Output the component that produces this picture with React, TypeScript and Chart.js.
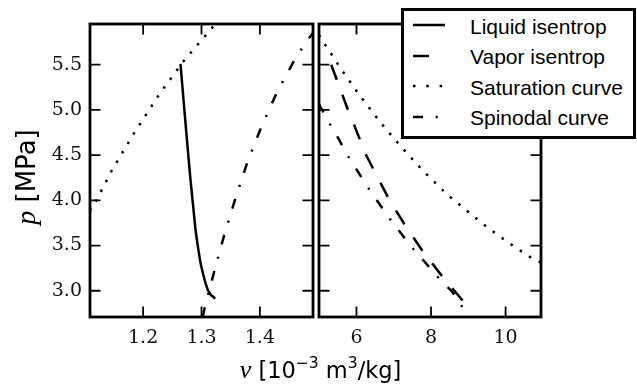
import React, { useEffect, useRef } from "react";
import { Chart, registerables } from "chart.js";

Chart.register(...registerables);

// ---------- data (v in 10^-3 m^3/kg, p in MPa) ----------
// left panel: liquid side
const LIQ_ISEN_V = [1.264, 1.270, 1.276, 1.2811, 1.2855, 1.2897, 1.294, 1.2983, 1.303, 1.3069, 1.3108, 1.316, 1.3235];
const LIQ_ISEN_P = [5.51, 5.05, 4.6, 4.23, 3.95, 3.675, 3.48, 3.306, 3.18, 3.085, 3.01, 2.955, 2.915];

const SAT_LIQ_V = [1.108, 1.1125, 1.1461, 1.1839, 1.224, 1.2674, 1.3154, 1.3245];
const SAT_LIQ_P = [3.89, 3.907, 4.327, 4.737, 5.138, 5.525, 5.887, 5.955];

const SPIN_LIQ_V = [1.302, 1.3057, 1.3223, 1.3394, 1.3583, 1.3784, 1.4024, 1.4286, 1.4595, 1.48, 1.492];
const SPIN_LIQ_P = [2.71, 2.82, 3.225, 3.627, 4.025, 4.419, 4.81, 5.186, 5.555, 5.758, 5.86];

// right panel: vapor side
const VAP_ISEN_V = [5.323, 5.778, 6.268, 6.865, 7.312, 7.802, 8.337, 8.892];
const VAP_ISEN_P = [5.5, 4.994, 4.493, 4.018, 3.719, 3.424, 3.14, 2.871];

const SAT_VAP_V = [4.99, 5.143, 5.617, 6.126, 6.651, 7.213, 7.802, 8.418, 9.087, 9.534, 10.249, 10.731, 10.96];
const SAT_VAP_P = [5.83, 5.732, 5.434, 5.138, 4.858, 4.585, 4.32, 4.07, 3.841, 3.694, 3.483, 3.354, 3.31];

const SPIN_VAP_V = [4.99, 5.036, 5.232, 5.545, 5.732, 6.062, 6.268, 6.616, 6.849, 7.224, 7.465, 7.874, 8.142, 8.562, 8.99, 9.06];
const SPIN_VAP_P = [5.07, 5.032, 4.884, 4.663, 4.515, 4.302, 4.165, 3.959, 3.822, 3.619, 3.49, 3.299, 3.169, 2.992, 2.727, 2.68];

// axes
const P_TICKS = [3.0, 3.5, 4.0, 4.5, 5.0, 5.5];
const V_LEFT_TICKS = [1.2, 1.3, 1.4];
const V_RIGHT_TICKS = [6, 8, 10];
const P_MIN = 2.71;
const P_MAX = 5.95;
const V_LEFT_MIN = 1.109;
const V_LEFT_MAX = 1.491;
const V_RIGHT_MIN = 4.995;
const V_RIGHT_MAX = 10.95;

const LEGEND_LABELS = ["Liquid isentrop", "Vapor isentrop", "Saturation curve", "Spinodal curve"];

// ---------- styles ----------
const DASH: Record<string, number[]> = {
  solid: [],
  dashed: [16, 16],
  dotted: [2.5, 8.5],
  dashdot: [10, 12.75, 2, 12.75],
};
const LEGEND_DASH = [DASH.solid, DASH.dashed, [2.5, 10.8], DASH.dashdot];
const LINE_W = 2.5;

const pts = (xs: number[], ys: number[]) => xs.map((x, i) => ({ x, y: ys[i] }));

const ds = (label: string, xs: number[], ys: number[], dash: number[]) => ({
  label,
  data: pts(xs, ys),
  showLine: true,
  borderColor: "#000",
  backgroundColor: "#000",
  borderWidth: LINE_W,
  borderDash: dash,
  pointRadius: 0,
  pointHoverRadius: 0,
  fill: false,
  tension: 0,
});

const framePlugin = (xTicks: number[], yTicks: number[]) => ({
  id: "frame",
  afterDatasetsDraw(chart: any) {
    const { ctx, chartArea: a, scales } = chart;
    const xs = scales.x;
    const ys = scales.y;
    const L = 10.5;
    ctx.save();
    ctx.strokeStyle = "#000";
    ctx.lineWidth = 1.8;
    ctx.setLineDash([]);
    ctx.beginPath();
    for (const v of xTicks) {
      const px = xs.getPixelForValue(v);
      ctx.moveTo(px, a.bottom);
      ctx.lineTo(px, a.bottom - L);
      ctx.moveTo(px, a.top);
      ctx.lineTo(px, a.top + L);
    }
    for (const v of yTicks) {
      const py = ys.getPixelForValue(v);
      ctx.moveTo(a.left, py);
      ctx.lineTo(a.left + L, py);
      ctx.moveTo(a.right, py);
      ctx.lineTo(a.right - L, py);
    }
    ctx.stroke();
    ctx.lineWidth = 2.8;
    ctx.strokeRect(a.left, a.top, a.right - a.left, a.bottom - a.top);
    ctx.restore();
  },
});

const tickFont = { family: "'DejaVu Serif', serif", size: 19 };

function makeConfig(opts: {
  datasets: any[];
  xMin: number;
  xMax: number;
  xTicks: number[];
  xFmt: (v: number) => string;
  showY: boolean;
  yWidth: number;
  padding: any;
}) {
  return {
    type: "scatter" as const,
    data: { datasets: opts.datasets },
    options: {
      animation: false as const,
      responsive: false,
      maintainAspectRatio: false,
      devicePixelRatio: 1,
      layout: { padding: opts.padding },
      plugins: { legend: { display: false }, tooltip: { enabled: false }, title: { display: false } },
      events: [],
      scales: {
        x: {
          type: "linear" as const,
          min: opts.xMin,
          max: opts.xMax,
          afterBuildTicks: (s: any) => {
            s.ticks = opts.xTicks.map((v) => ({ value: v }));
          },
          afterFit: (s: any) => {
            s.height = 71;
          },
          grid: { display: false, drawTicks: false },
          border: { display: false },
          ticks: {
            font: tickFont,
            color: "#111",
            padding: 10,
            maxRotation: 0,
            autoSkip: false,
            callback: (v: any) => opts.xFmt(Number(v)),
          },
        },
        y: {
          type: "linear" as const,
          min: P_MIN,
          max: P_MAX,
          afterBuildTicks: (s: any) => {
            s.ticks = P_TICKS.map((v) => ({ value: v }));
          },
          afterFit: (s: any) => {
            s.width = opts.yWidth;
          },
          grid: { display: false, drawTicks: false },
          border: { display: false },
          ticks: {
            display: opts.showY,
            font: tickFont,
            color: "#111",
            padding: 8,
            autoSkip: false,
            callback: (v: any) => Number(v).toFixed(1),
          },
        },
      },
    },
    plugins: [framePlugin(opts.xTicks, P_TICKS)],
  };
}

export default function App() {
  const leftRef = useRef<HTMLCanvasElement>(null);
  const rightRef = useRef<HTMLCanvasElement>(null);

  useEffect(() => {
    const c1 = new Chart(
      leftRef.current as HTMLCanvasElement,
      makeConfig({
        datasets: [
          ds(LEGEND_LABELS[0], LIQ_ISEN_V, LIQ_ISEN_P, DASH.solid),
          ds(LEGEND_LABELS[2], SAT_LIQ_V, SAT_LIQ_P, DASH.dotted),
          ds(LEGEND_LABELS[3], SPIN_LIQ_V, SPIN_LIQ_P, DASH.dashdot),
        ],
        xMin: V_LEFT_MIN,
        xMax: V_LEFT_MAX,
        xTicks: V_LEFT_TICKS,
        xFmt: (v) => v.toFixed(1),
        showY: true,
        yWidth: 90,
        padding: { left: 0, top: 24, right: 3, bottom: 0 },
      }) as any
    );
    const c2 = new Chart(
      rightRef.current as HTMLCanvasElement,
      makeConfig({
        datasets: [
          ds(LEGEND_LABELS[1], VAP_ISEN_V, VAP_ISEN_P, DASH.dashed),
          ds(LEGEND_LABELS[2], SAT_VAP_V, SAT_VAP_P, DASH.dotted),
          ds(LEGEND_LABELS[3], SPIN_VAP_V, SPIN_VAP_P, DASH.dashdot),
        ],
        xMin: V_RIGHT_MIN,
        xMax: V_RIGHT_MAX,
        xTicks: V_RIGHT_TICKS,
        xFmt: (v) => String(Math.round(v)),
        showY: false,
        yWidth: 0,
        padding: { left: 3, top: 24, right: 96, bottom: 0 },
      }) as any
    );
    return () => {
      c1.destroy();
      c2.destroy();
    };
  }, []);

  const sans = "'DejaVu Sans', sans-serif";
  const legendSans = "'Liberation Sans', Arial, sans-serif";
  const italicSerif = "'Liberation Serif', 'DejaVu Serif', serif";

  return (
    <div
      style={{
        position: "fixed",
        left: 0,
        top: 0,
        width: 637,
        height: 388,
        background: "#fff",
        overflow: "hidden",
      }}
    >
      <canvas
        ref={leftRef}
        width={316}
        height={388}
        style={{ position: "absolute", left: 0, top: 0, width: 316, height: 388 }}
      />
      <canvas
        ref={rightRef}
        width={321}
        height={388}
        style={{ position: "absolute", left: 316, top: 0, width: 321, height: 388 }}
      />

      {/* x axis title */}
      <div
        style={{
          position: "absolute",
          left: 2,
          width: 637,
          top: 358.2,
          textAlign: "center",
          fontFamily: sans,
          fontSize: 22.5,
          lineHeight: "24px",
          color: "#000",
          whiteSpace: "nowrap",
        }}
      >
        <span style={{ fontFamily: italicSerif, fontStyle: "italic", fontSize: 26, lineHeight: 0 }}>v</span>
        {" ["}10
        <span style={{ fontSize: 15.5, position: "relative", top: -10, lineHeight: 0 }}>−3</span>
        {" m"}
        <span style={{ fontSize: 15.5, position: "relative", top: -10, lineHeight: 0 }}>3</span>
        /kg]
      </div>

      {/* y axis title */}
      <div
        style={{
          position: "absolute",
          left: 26 - 100,
          top: 177 - 15,
          width: 200,
          height: 30,
          lineHeight: "30px",
          textAlign: "center",
          fontFamily: sans,
          fontSize: 26,
          color: "#000",
          whiteSpace: "nowrap",
          transform: "rotate(-90deg)",
        }}
      >
        <span style={{ fontFamily: italicSerif, fontStyle: "italic", fontSize: 28, lineHeight: 0 }}>p</span>
        {" [MPa]"}
      </div>

      {/* legend */}
      <div
        style={{
          position: "absolute",
          left: 401,
          top: 8,
          width: 235,
          height: 131,
          boxSizing: "border-box",
          border: "3px solid #000",
          background: "#fff",
        }}
      />
      {LEGEND_LABELS.map((label, i) => {
        const baseline = 33.3 + 30.5 * i;
        const ly = baseline - 8;
        return (
          <React.Fragment key={label}>
            <svg
              width={40}
              height={10}
              style={{ position: "absolute", left: 411, top: ly - 5 }}
            >
              <line
                x1={2}
                y1={5}
                x2={34}
                y2={5}
                stroke="#000"
                strokeWidth={LINE_W}
                strokeDasharray={LEGEND_DASH[i].length ? LEGEND_DASH[i].join(" ") : undefined}
              />
            </svg>
            <div
              style={{
                position: "absolute",
                left: 470,
                top: baseline - 17.8,
                fontFamily: legendSans,
                fontSize: 21,
                lineHeight: "21px",
                color: "#000",
                whiteSpace: "nowrap",
              }}
            >
              {label}
            </div>
          </React.Fragment>
        );
      })}
    </div>
  );
}
